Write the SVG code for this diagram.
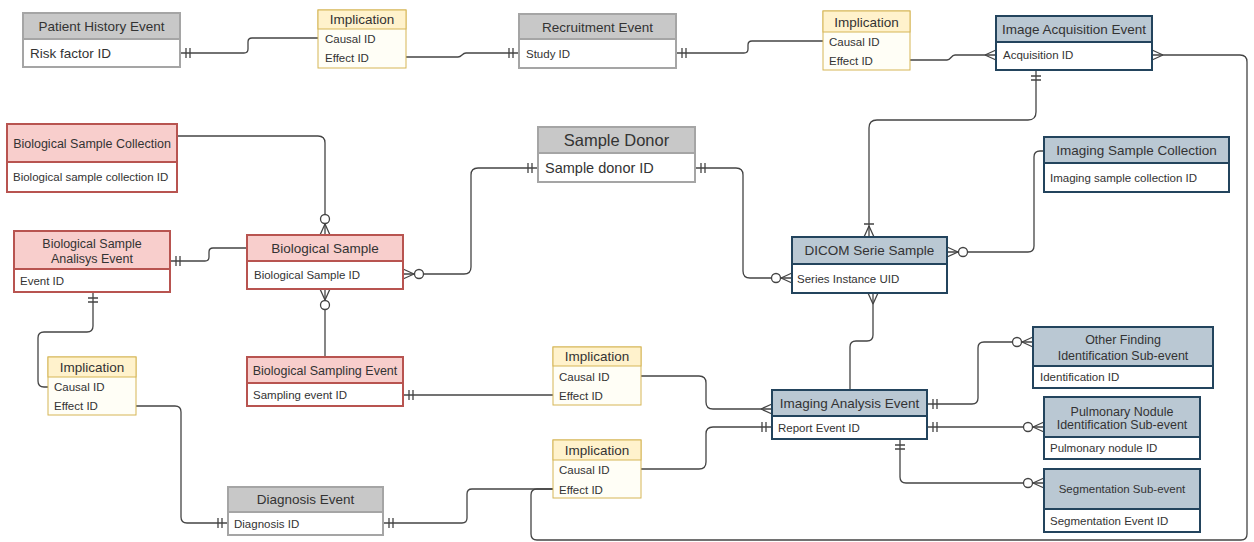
<svg xmlns="http://www.w3.org/2000/svg" width="1254" height="542" viewBox="0 0 1254 542">
<style>
text{font-family:"Liberation Sans",Arial,sans-serif;fill:#333}
.t{font-size:13.5px;text-anchor:middle}
.t2{font-size:12.5px;text-anchor:middle}
.f{font-size:11.5px}
.fl{font-size:13.5px}
.body{fill:#fff}
.grey{stroke:#a5a5a5;stroke-width:2}
.grey.h{fill:#c8c8c8}
.red{stroke:#b85450;stroke-width:2}
.red.h{fill:#f8cecc}
.blue{stroke:#23445d;stroke-width:2}
.blue.h{fill:#bac8d3}
.yel{stroke:#d6b656;stroke-width:1}
.yel.body{fill:#fffef6}
.yel.h{fill:#fff2cc}
.c path{fill:none;stroke:#444;stroke-width:1.3}
.m{fill:none;stroke:#444;stroke-width:1.3}
</style>
<defs>
<marker id="one" markerUnits="userSpaceOnUse" orient="auto-start-reverse" overflow="visible" markerWidth="1" markerHeight="1" refX="0" refY="0">
<path class="m" d="M-6,-5V5M-10,-5V5"/>
</marker>
<marker id="many" markerUnits="userSpaceOnUse" orient="auto-start-reverse" overflow="visible" markerWidth="1" markerHeight="1" refX="0" refY="0">
<path class="m" d="M-11,0L0,-5M-11,0L0,5"/>
</marker>
<marker id="zmany" markerUnits="userSpaceOnUse" orient="auto-start-reverse" overflow="visible" markerWidth="1" markerHeight="1" refX="0" refY="0">
<path class="m" d="M-11,0L0,-5M-11,0L0,5"/>
<circle cx="-16" cy="0" r="4.5" fill="#fff" stroke="#444" stroke-width="1.3"/>
</marker>
<marker id="onemany" markerUnits="userSpaceOnUse" orient="auto-start-reverse" overflow="visible" markerWidth="1" markerHeight="1" refX="0" refY="0">
<path class="m" d="M-11,0L0,-5M-11,0L0,5M-13,-5V5"/>
</marker>
</defs>
<rect width="1254" height="542" fill="#fff"/>
<g id="connectors" class="c">
<path marker-start="url(#one)" d="M180,53H244Q248,53 248,49V42Q248,38 252,38H318"/>
<path marker-end="url(#one)" d="M406,57H458C462,57 462,53 466,53H519"/>
<path marker-start="url(#one)" d="M676,53H744Q748,53 748,49V45Q748,41 752,41H823"/>
<path marker-end="url(#many)" d="M910,60H947C951,60 951,55 955,55H996"/>
<path marker-start="url(#many)" d="M1152,55H1240Q1247,55 1247,62V534Q1247,540 1241,540H537Q531,540 531,534V495Q531,489 537,489H553"/>
<path marker-start="url(#one)" marker-end="url(#onemany)" d="M1036,70V112Q1036,120 1028,120H877Q869,120 869,128V237"/>
<path marker-start="url(#zmany)" d="M947,252H1028Q1034,252 1034,246V157Q1034,151 1040,151H1044"/>
<path marker-start="url(#one)" marker-end="url(#zmany)" d="M538,168H478Q471,168 471,175V267Q471,274 464,274H403"/>
<path marker-start="url(#one)" marker-end="url(#zmany)" d="M695,168H736Q743,168 743,175V271Q743,278 750,278H792"/>
<path marker-end="url(#zmany)" d="M177,136H318Q325,136 325,143V235"/>
<path marker-start="url(#one)" d="M170,261H205Q209,261 209,257V252Q209,248 213,248H247"/>
<path marker-start="url(#zmany)" d="M325,289V357"/>
<path marker-start="url(#one)" d="M93,292V326Q93,332 87,332H44Q38,332 38,338V381Q38,387 44,387H48"/>
<path marker-end="url(#one)" d="M136,406H175Q181,406 181,412V517Q181,523 187,523H228"/>
<path marker-start="url(#one)" d="M383,523H462Q467,523 467,518V494Q467,489 472,489H553"/>
<path marker-start="url(#one)" d="M403,395H553"/>
<path marker-end="url(#many)" d="M641,376H699Q706,376 706,383V402Q706,409 713,409H772"/>
<path marker-end="url(#one)" d="M641,469H699Q706,469 706,462V434Q706,427 713,427H772"/>
<path marker-end="url(#many)" d="M850,390V347Q850,341 856,341H867Q873,341 873,335V293"/>
<path marker-start="url(#one)" marker-end="url(#zmany)" d="M927,404H972Q978,404 978,398V348Q978,342 984,342H1033"/>
<path marker-start="url(#one)" marker-end="url(#zmany)" d="M927,427H1044"/>
<path marker-start="url(#one)" marker-end="url(#zmany)" d="M900,439V477Q900,483 906,483H1044"/>
</g>
<g id="patient-history-event">
<rect class="body grey" x="23" y="13" width="157" height="54"/>
<rect class="h grey" x="23" y="13" width="157" height="26"/>
<text class="t" x="101.5" y="31">Patient History Event</text>
<text class="fl" x="30" y="58">Risk factor ID</text>
</g>
<g id="implication-1">
<rect class="body yel" x="318" y="10" width="88" height="58"/>
<rect class="h yel" x="318" y="10" width="88" height="19"/>
<text class="t" x="362" y="24">Implication</text>
<text class="f" x="325" y="43">Causal ID</text>
<text class="f" x="325" y="62">Effect ID</text>
</g>
<g id="recruitment-event">
<rect class="body grey" x="519" y="14" width="157" height="54"/>
<rect class="h grey" x="519" y="14" width="157" height="25"/>
<text class="t" x="597.5" y="31.5">Recruitment Event</text>
<text class="f" x="526" y="57.5">Study ID</text>
</g>
<g id="implication-2">
<rect class="body yel" x="823" y="11" width="87" height="59"/>
<rect class="h yel" x="823" y="11" width="87" height="21"/>
<text class="t" x="866.5" y="26.5">Implication</text>
<text class="f" x="829" y="46">Causal ID</text>
<text class="f" x="829" y="65">Effect ID</text>
</g>
<g id="image-acquisition-event">
<rect class="body blue" x="996" y="16" width="156" height="54"/>
<rect class="h blue" x="996" y="16" width="156" height="26"/>
<text class="t" x="1074" y="34">Image Acquisition Event</text>
<text class="f" x="1003" y="59">Acquisition ID</text>
</g>
<g id="biological-sample-collection">
<rect class="body red" x="7" y="124" width="170" height="68"/>
<rect class="h red" x="7" y="124" width="170" height="38"/>
<text class="t2" x="92" y="147.5">Biological Sample Collection</text>
<text class="f" x="13" y="181">Biological sample collection ID</text>
</g>
<g id="sample-donor">
<rect class="body grey" x="538" y="127" width="157" height="55"/>
<rect class="h grey" x="538" y="127" width="157" height="26"/>
<text x="616.5" y="146" style="font-size:16.5px;text-anchor:middle">Sample Donor</text>
<text x="545" y="173" style="font-size:14.5px">Sample donor ID</text>
</g>
<g id="imaging-sample-collection">
<rect class="body blue" x="1044" y="137" width="185" height="55"/>
<rect class="h blue" x="1044" y="137" width="185" height="26"/>
<text class="t" x="1136.5" y="155">Imaging Sample Collection</text>
<text class="f" x="1050" y="181.5">Imaging sample collection ID</text>
</g>
<g id="biological-sample-analisys-event">
<rect class="body red" x="14" y="231" width="156" height="61"/>
<rect class="h red" x="14" y="231" width="156" height="38"/>
<text class="t2" x="92" y="247.5">Biological Sample</text>
<text class="t2" x="92" y="262.5">Analisys Event</text>
<text class="f" x="20" y="284.5">Event ID</text>
</g>
<g id="biological-sample">
<rect class="body red" x="247" y="235" width="156" height="54"/>
<rect class="h red" x="247" y="235" width="156" height="26"/>
<text class="t" x="325" y="252.5">Biological Sample</text>
<text class="f" x="254" y="279">Biological Sample ID</text>
</g>
<g id="dicom-serie-sample">
<rect class="body blue" x="792" y="237" width="155" height="56"/>
<rect class="h blue" x="792" y="237" width="155" height="27"/>
<text class="t" x="869.5" y="255">DICOM Serie Sample</text>
<text class="f" x="797" y="282.5">Series Instance UID</text>
</g>
<g id="implication-3">
<rect class="body yel" x="48" y="357" width="88" height="58"/>
<rect class="h yel" x="48" y="357" width="88" height="20"/>
<text class="t" x="92" y="372">Implication</text>
<text class="f" x="54" y="391">Causal ID</text>
<text class="f" x="54" y="410">Effect ID</text>
</g>
<g id="biological-sampling-event">
<rect class="body red" x="247" y="357" width="156" height="49"/>
<rect class="h red" x="247" y="357" width="156" height="26"/>
<text class="t2" x="325" y="374.5">Biological Sampling Event</text>
<text class="f" x="253" y="398.5">Sampling event ID</text>
</g>
<g id="implication-5">
<rect class="body yel" x="553" y="347" width="88" height="58"/>
<rect class="h yel" x="553" y="347" width="88" height="19"/>
<text class="t" x="597" y="361">Implication</text>
<text class="f" x="559" y="381">Causal ID</text>
<text class="f" x="559" y="400">Effect ID</text>
</g>
<g id="implication-4">
<rect class="body yel" x="553" y="440" width="88" height="58"/>
<rect class="h yel" x="553" y="440" width="88" height="20"/>
<text class="t" x="597" y="455">Implication</text>
<text class="f" x="559" y="474">Causal ID</text>
<text class="f" x="559" y="494">Effect ID</text>
</g>
<g id="imaging-analysis-event">
<rect class="body blue" x="772" y="390" width="155" height="49"/>
<rect class="h blue" x="772" y="390" width="155" height="26"/>
<text class="t" x="849.5" y="407.5">Imaging Analysis Event</text>
<text class="f" x="778" y="431.5">Report Event ID</text>
</g>
<g id="diagnosis-event">
<rect class="body grey" x="228" y="487" width="155" height="48"/>
<rect class="h grey" x="228" y="487" width="155" height="25"/>
<text class="t" x="305.5" y="504">Diagnosis Event</text>
<text class="f" x="234" y="527.5">Diagnosis ID</text>
</g>
<g id="other-finding-identification-sub-event">
<rect class="body blue" x="1033" y="327" width="180" height="61"/>
<rect class="h blue" x="1033" y="327" width="180" height="39"/>
<text class="t2" x="1123" y="343.5">Other Finding</text>
<text class="t2" x="1123" y="359.5">Identification Sub-event</text>
<text class="f" x="1040" y="381">Identification ID</text>
</g>
<g id="pulmonary-nodule-identification-sub-event">
<rect class="body blue" x="1044" y="397" width="156" height="62"/>
<rect class="h blue" x="1044" y="397" width="156" height="40"/>
<text class="t2" x="1122" y="415.5">Pulmonary Nodule</text>
<text class="t2" x="1122" y="428.5">Identification Sub-event</text>
<text class="f" x="1050" y="452">Pulmonary nodule ID</text>
</g>
<g id="segmentation-sub-event">
<rect class="body blue" x="1044" y="469" width="156" height="63"/>
<rect class="h blue" x="1044" y="469" width="156" height="40"/>
<text class="f" x="1122" y="493" style="text-anchor:middle">Segmentation Sub-event</text>
<text class="f" x="1050" y="524.5">Segmentation Event ID</text>
</g>
</svg>
